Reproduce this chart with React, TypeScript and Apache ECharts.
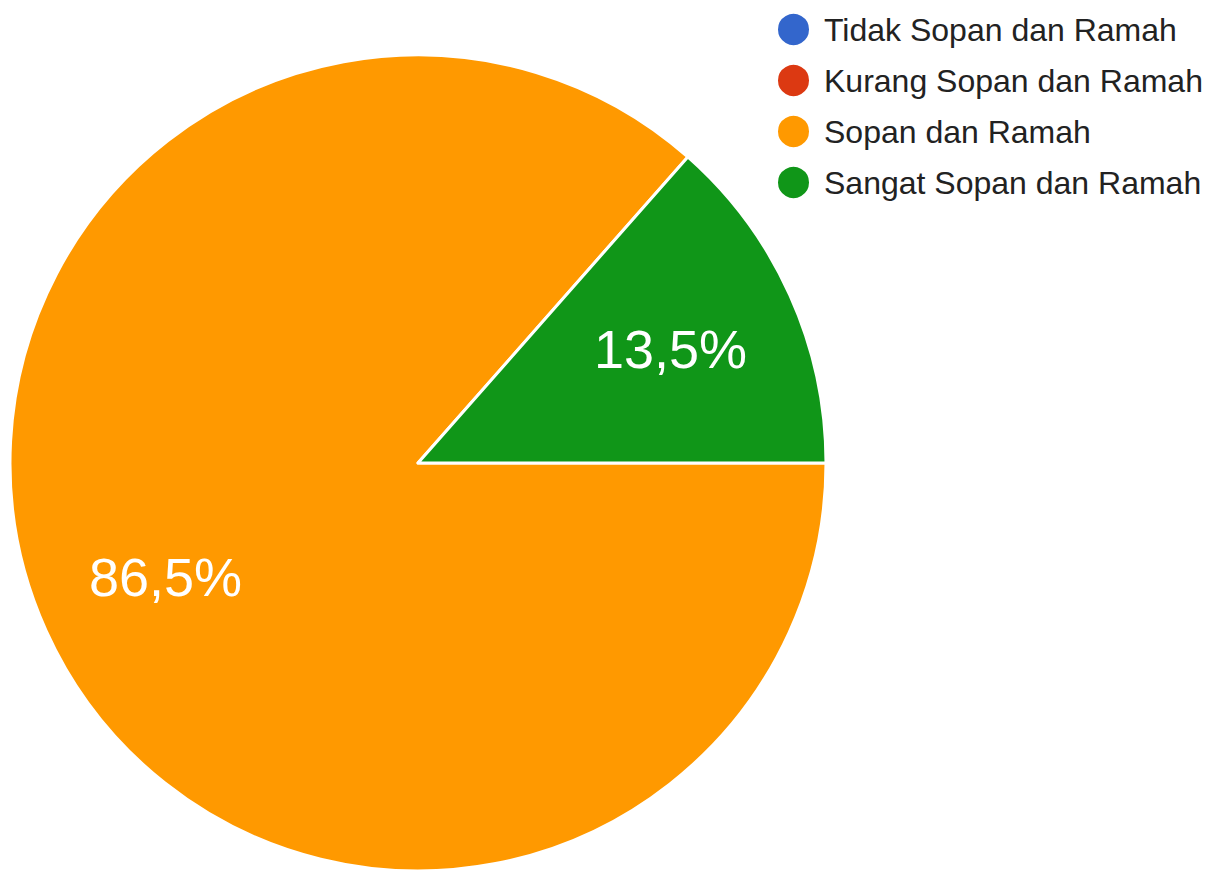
import React, { useEffect, useRef } from "react";
import * as echarts from "echarts";

const categories = [
  "Tidak Sopan dan Ramah",
  "Kurang Sopan dan Ramah",
  "Sopan dan Ramah",
  "Sangat Sopan dan Ramah",
];
const values = [0, 0, 86.5, 13.5];
const colors = ["#3366cc", "#dc3912", "#ff9900", "#109618"];

const FONT = "Arial, 'Liberation Sans', sans-serif";

export default function App() {
  const ref = useRef<HTMLDivElement>(null);
  useEffect(() => {
    if (!ref.current) return;
    const chart = echarts.init(ref.current, undefined, { renderer: "svg" });
    const data = categories.map((name, i) => ({
      name,
      value: values[i],
      itemStyle: { color: colors[i] },
    }));
    const labelData = categories.map((name, i) => ({
      name,
      value: values[i],
    }));
    chart.setOption({
      animation: false,
      backgroundColor: "#ffffff",
      legend: {
        orient: "vertical",
        left: 776,
        top: 12,
        padding: 0,
        icon: "circle",
        itemWidth: 33,
        itemHeight: 33,
        itemGap: 16,
        data: categories,
        textStyle: {
          fontFamily: FONT,
          fontSize: 32,
          color: "#222222",
          lineHeight: 32,
          padding: [0, 0, 0, 9],
        },
      },
      series: [
        {
          type: "pie",
          center: [418, 463],
          radius: [0, 408],
          startAngle: 0,
          clockwise: true,
          data,
          label: { show: false },
          labelLine: { show: false },
          itemStyle: { borderColor: "#ffffff", borderWidth: 3 },
          emphasis: { disabled: true },
        },
        {
          type: "pie",
          center: [418, 463],
          radius: [140, 408],
          startAngle: 0,
          clockwise: true,
          silent: true,
          data: labelData,
          itemStyle: { color: "transparent", borderWidth: 0 },
          labelLine: { show: false },
          label: {
            show: true,
            position: "inside",
            color: "#ffffff",
            fontFamily: FONT,
            fontSize: 54,
            formatter: (p: any) =>
              p.value > 0 ? p.percent.toFixed(1).replace(".", ",") + "%" : "",
          },
          emphasis: { disabled: true },
        },
      ],
    });
    return () => chart.dispose();
  }, []);
  return (
    <div
      ref={ref}
      style={{ position: "fixed", left: 0, top: 0, width: 1218, height: 873 }}
    />
  );
}
